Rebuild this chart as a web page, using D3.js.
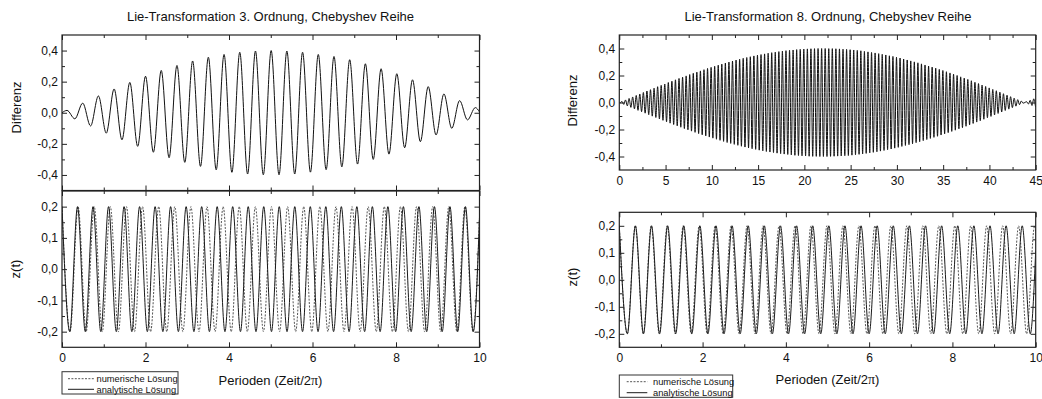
<!DOCTYPE html>
<html><head><meta charset="utf-8">
<script src="https://cdn.jsdelivr.net/npm/d3@7"></script>
<style>
body{margin:0;background:#fff;}
svg{display:block;font-family:"Liberation Sans",Arial,sans-serif;}
</style></head><body>
<svg id="c" width="1042" height="399"></svg>
<script>
// ---------------- texts ----------------
const chartTitles = ["Lie-Transformation 3. Ordnung, Chebyshev Reihe", "Lie-Transformation 8. Ordnung, Chebyshev Reihe"];
const yTitles = ["Differenz", "z(t)"];
const xTitleParts = ["Perioden (Zeit/2", "π", ")"];
const legendLabels = ["numerische Lösung", "analytische Lösung"];

// ---------------- ticks ----------------
const diffYMajor = [-0.4, -0.2, 0, 0.2, 0.4];
const diffYMinor = [-0.3, -0.1, 0.1, 0.3];
const zYMajor = [-0.2, -0.1, 0, 0.1, 0.2];
const zYMinor = [-0.15, -0.05, 0.05, 0.15];
const zXMajor = [0, 2, 4, 6, 8, 10];
const zXMinor = [1, 3, 5, 7, 9];
const diff8XMajor = [0, 5, 10, 15, 20, 25, 30, 35, 40, 45];
const diff8XMinor = [2.5, 7.5, 12.5, 17.5, 22.5, 27.5, 32.5, 37.5, 42.5];

// ---------------- data: left (3. Ordnung) ----------------
// extrema of the difference curve, evenly spaced between first and last extremum time
const diff3Extrema = [0.015,-0.039,0.062,-0.085,0.108,-0.131,0.153,-0.174,0.195,-0.216,
  0.235,-0.254,0.272,-0.289,0.304,-0.319,0.333,-0.345,0.357,-0.367,
  0.375,-0.383,0.389,-0.394,0.397,-0.399,0.400,-0.399,0.397,-0.394,
  0.389,-0.382,0.375,-0.366,0.362,-0.348,0.341,-0.330,0.315,-0.300,
  0.283,-0.266,0.251,-0.225,0.212,-0.186,0.168,-0.143,0.121,-0.100,
  0.078,-0.046,0.033];
const diff3Span = [0.12, 9.90];
const diff3Start = [0, 0];
const diff3End = [10, 0.005];

const z3AnaExtrema = [0.2,-0.2,0.2,-0.2,0.2,-0.2,0.2,-0.2,0.2,-0.2,0.2,-0.2,0.2,-0.2,0.2,-0.2,0.2,-0.2,
  0.2,-0.2,0.2,-0.2,0.2,-0.2,0.2,-0.2,0.2,-0.2,0.2,-0.2,0.2,-0.2,0.2,-0.2,0.2,-0.2,
  0.2,-0.2,0.2,-0.2,0.2,-0.2,0.2,-0.2,0.2,-0.2,0.2,-0.2,0.2,-0.2,0.2,-0.2,0.2,-0.2];
const z3AnaSpan = [0, 9.85];
const z3AnaEnd = [10, 0.165];
const z3NumExtrema = [0.2,-0.2,0.2,-0.2,0.2,-0.2,0.2,-0.2,0.2,-0.2,0.2,-0.2,0.2,-0.2,0.2,-0.2,0.2,-0.2,
  0.2,-0.2,0.2,-0.2,0.2,-0.2,0.2,-0.2,0.2,-0.2,0.2,-0.2,0.2,-0.2,0.2,-0.2,0.2,-0.2,
  0.2,-0.2,0.2,-0.2,0.2,-0.2,0.2,-0.2,0.2,-0.2,0.2,-0.2,0.2,-0.2,0.2,-0.2];
const z3NumSpan = [0, 9.843];
const z3NumEnd = [10, 0.166];

// ---------------- data: right (8. Ordnung) ----------------
const diff8Extrema = [
  -0.003,0.008,-0.014,0.019,-0.025,0.030,-0.036,0.041,-0.047,0.052,
  -0.058,0.063,-0.068,0.074,-0.079,0.085,-0.090,0.095,-0.101,0.106,
  -0.111,0.117,-0.122,0.127,-0.132,0.137,-0.143,0.148,-0.153,0.158,
  -0.163,0.168,-0.173,0.178,-0.183,0.188,-0.193,0.197,-0.202,0.207,
  -0.212,0.216,-0.221,0.225,-0.230,0.234,-0.239,0.243,-0.247,0.252,
  -0.256,0.260,-0.264,0.268,-0.272,0.276,-0.280,0.284,-0.288,0.292,
  -0.296,0.299,-0.303,0.307,-0.310,0.314,-0.317,0.320,-0.324,0.327,
  -0.330,0.333,-0.336,0.339,-0.342,0.345,-0.347,0.350,-0.353,0.355,
  -0.358,0.360,-0.363,0.365,-0.367,0.369,-0.371,0.373,-0.375,0.377,
  -0.379,0.381,-0.382,0.384,-0.385,0.387,-0.388,0.389,-0.391,0.392,
  -0.393,0.394,-0.395,0.396,-0.396,0.397,-0.398,0.398,-0.399,0.399,
  -0.399,0.400,-0.400,0.400,-0.400,0.400,-0.400,0.399,-0.399,0.399,
  -0.398,0.398,-0.397,0.397,-0.396,0.395,-0.394,0.394,-0.393,0.391,
  -0.390,0.389,-0.387,0.386,-0.384,0.383,-0.381,0.379,-0.377,0.375,
  -0.373,0.371,-0.369,0.367,-0.365,0.362,-0.360,0.357,-0.355,0.352,
  -0.349,0.346,-0.344,0.341,-0.338,0.335,-0.332,0.329,-0.325,0.322,
  -0.318,0.315,-0.312,0.308,-0.305,0.301,-0.297,0.294,-0.290,0.286,
  -0.282,0.278,-0.274,0.270,-0.266,0.262,-0.258,0.254,-0.250,0.245,
  -0.241,0.237,-0.232,0.228,-0.223,0.219,-0.214,0.210,-0.205,0.200,
  -0.195,0.190,-0.186,0.181,-0.176,0.171,-0.166,0.161,-0.155,0.150,
  -0.145,0.140,-0.135,0.129,-0.124,0.119,-0.113,0.108,-0.103,0.097,
  -0.092,0.087,-0.081,0.076,-0.070,0.065,-0.059,0.054,-0.049,0.043,
  -0.038,0.032,-0.027,0.021,-0.016,0.011,-0.005,0.000,0.006,-0.011,
  0.016,-0.022,0.027,-0.033];
const diff8Span = [0.0963, 44.983];
const diff8Start = [0, 0];

const z8AnaExtrema = [0.2,-0.2,0.2,-0.2,0.2,-0.2,0.2,-0.2,0.2,-0.2,0.2,-0.2,0.2,-0.2,0.2,-0.2,0.2,-0.2,
  0.2,-0.2,0.2,-0.2,0.2,-0.2,0.2,-0.2,0.2,-0.2,0.2,-0.2,0.2,-0.2,0.2,-0.2,0.2,-0.2,
  0.2,-0.2,0.2,-0.2,0.2,-0.2,0.2,-0.2,0.2,-0.2,0.2,-0.2,0.2,-0.2,0.2,-0.2];
const z8AnaSpan = [0, 9.87];
const z8AnaEnd = [10, 0.108];
const z8NumExtrema = [0.2,-0.2,0.2,-0.2,0.2,-0.2,0.2,-0.2,0.2,-0.2,0.2,-0.2,0.2,-0.2,0.2,-0.2,0.2,-0.2,
  0.2,-0.2,0.2,-0.2,0.2,-0.2,0.2,-0.2,0.2,-0.2,0.2,-0.2,0.2,-0.2,0.2,-0.2,0.2,-0.2,
  0.2,-0.2,0.2,-0.2,0.2,-0.2,0.2,-0.2,0.2,-0.2,0.2,-0.2,0.2,-0.2,0.2,-0.2,0.2];
const z8NumSpan = [0, 9.974];
const z8NumEnd = [10, 0.18];

// ---------------- drawing ----------------
const svg = d3.select("#c");
const FONT = "'Liberation Sans', Arial, sans-serif";
const loc = d3.formatLocale({decimal: ",", thousands: ".", grouping: [3], currency: ["", ""], minus: "-"});
const f1 = loc.format(".1f");
const f0 = loc.format("d");
let clipId = 0;

function points(values, span, start, end) {
  const idx = d3.scaleLinear().domain([0, values.length - 1]).range(span);
  const pts = values.map((v, i) => [idx(i), v]);
  if (start) pts.unshift(start);
  if (end) pts.push(end);
  return pts;
}

function axes(g, x, y, o) {
  const [xa, xb] = x.range();
  const [yb, ya] = y.range();
  const mk = (axis, vals, size, tx, ty, fmt, pad) => {
    axis.tickValues(vals).tickSizeInner(-size).tickSizeOuter(0).tickPadding(pad || 0)
      .tickFormat(fmt ? fmt : () => "");
    const s = g.append("g").attr("transform", `translate(${tx},${ty})`).call(axis);
    s.attr("font-size", 12).attr("font-family", FONT);
    s.select(".domain").remove();
    s.selectAll("line").attr("stroke", "#222").attr("stroke-width", 1);
    s.selectAll("text").attr("fill", "#111");
  };
  mk(d3.axisBottom(x), o.xMajor, 5, 0, yb, o.xLabels ? o.xFmt : null, 6);
  mk(d3.axisBottom(x), o.xMinor, 3, 0, yb, null, 0);
  mk(d3.axisTop(x), o.xMajor, 5, 0, ya, null, 0);
  mk(d3.axisTop(x), o.xMinor, 3, 0, ya, null, 0);
  mk(d3.axisLeft(y), o.yMajor, 5, xa, 0, o.yFmt, 4);
  mk(d3.axisLeft(y), o.yMinor, 3, xa, 0, null, 0);
  mk(d3.axisRight(y), o.yMajor, 5, xb, 0, null, 0);
  mk(d3.axisRight(y), o.yMinor, 3, xb, 0, null, 0);
  g.append("rect").attr("x", xa).attr("y", ya).attr("width", xb - xa).attr("height", yb - ya)
    .attr("fill", "none").attr("stroke", "#222").attr("stroke-width", 1.2);
}

function curve(g, x, y, pts, style) {
  const id = "clip" + (clipId++);
  const [xa, xb] = x.range();
  const [yb, ya] = y.range();
  g.append("clipPath").attr("id", id).append("rect")
    .attr("x", xa).attr("y", ya).attr("width", xb - xa).attr("height", yb - ya);
  const line = d3.line().x(d => x(d[0])).y(d => y(d[1])).curve(d3.curveMonotoneX);
  const p = g.append("path").attr("d", line(pts)).attr("fill", "none")
    .attr("clip-path", `url(#${id})`)
    .attr("stroke", style.color).attr("stroke-width", style.width);
  if (style.dash) p.attr("stroke-dasharray", style.dash);
}

const numStyle = {color: "#555", width: 1, dash: "2,1.4"};
const anaStyle = {color: "#1a1a1a", width: 1};
const diffStyle = {color: "#111", width: 1};

function yTitle(text, xBase, cy) {
  svg.append("text").attr("transform", `translate(${xBase},${cy}) rotate(-90)`)
    .attr("text-anchor", "middle").attr("font-family", FONT).attr("font-size", 13)
    .attr("fill", "#111").text(text);
}
function xTitle(cx, yBase) {
  const t = svg.append("text").attr("x", cx).attr("y", yBase).attr("text-anchor", "middle")
    .attr("font-family", FONT).attr("font-size", 13).attr("fill", "#111");
  t.append("tspan").text(xTitleParts[0]);
  t.append("tspan").attr("font-family", "'Liberation Serif', 'DejaVu Serif', serif").attr("font-size", 14).text(xTitleParts[1]);
  t.append("tspan").text(xTitleParts[2]);
}
function title(text, cx, yBase) {
  svg.append("text").attr("x", cx).attr("y", yBase).attr("text-anchor", "middle")
    .attr("font-family", FONT).attr("font-size", 13).attr("fill", "#111").text(text);
}
function legend(x0, y0, w, h, l0, l1, tx, ly0, ly1) {
  const g = svg.append("g");
  g.append("rect").attr("x", x0).attr("y", y0).attr("width", w).attr("height", h)
    .attr("fill", "#fff").attr("stroke", "#333").attr("stroke-width", 1);
  const styles = [numStyle, anaStyle];
  [ly0, ly1].forEach((ly, i) => {
    const ln = g.append("line").attr("x1", l0).attr("x2", l1).attr("y1", ly).attr("y2", ly)
      .attr("stroke", styles[i].color).attr("stroke-width", 1);
    if (styles[i].dash) ln.attr("stroke-dasharray", styles[i].dash);
    g.append("text").attr("x", tx).attr("y", ly + 3.3).attr("font-family", FONT)
      .attr("font-size", 9.3).attr("fill", "#111").text(legendLabels[i]);
  });
}

// ---- Left: 3. Ordnung ----
{
  const x = d3.scaleLinear().domain([0, 10]).range([62, 479.5]);
  const yD = d3.scaleLinear().domain([-0.5, 0.5]).range([190.5, 35]);
  const yZ = d3.scaleLinear().domain([-0.25, 0.25]).range([347.3, 191]);
  const g = svg.append("g");
  curve(g, x, yD, points(diff3Extrema, diff3Span, diff3Start, diff3End), diffStyle);
  axes(g, x, yD, {xMajor: zXMajor, xMinor: zXMinor, xLabels: false, yMajor: diffYMajor, yMinor: diffYMinor, yFmt: f1});
  curve(g, x, yZ, points(z3NumExtrema, z3NumSpan, null, z3NumEnd), numStyle);
  curve(g, x, yZ, points(z3AnaExtrema, z3AnaSpan, null, z3AnaEnd), anaStyle);
  axes(g, x, yZ, {xMajor: zXMajor, xMinor: zXMinor, xLabels: true, xFmt: f0, yMajor: zYMajor, yMinor: zYMinor, yFmt: f1});
  title(chartTitles[0], 270.5, 21);
  yTitle(yTitles[0], 20.5, 107.5);
  yTitle(yTitles[1], 20, 269);
  xTitle(270.5, 384.5);
  legend(62, 371.7, 116, 22.3, 68, 94, 96.5, 378.7, 389.3);
}

// ---- Right: 8. Ordnung ----
{
  const xD = d3.scaleLinear().domain([0, 45]).range([619.3, 1035.7]);
  const xZ = d3.scaleLinear().domain([0, 10]).range([619.3, 1035.7]);
  const yD = d3.scaleLinear().domain([-0.5, 0.5]).range([170, 35]);
  const yZ = d3.scaleLinear().domain([-0.25, 0.25]).range([347.3, 212.3]);
  const g = svg.append("g");
  curve(g, xD, yD, points(diff8Extrema, diff8Span, diff8Start, null), diffStyle);
  axes(g, xD, yD, {xMajor: diff8XMajor, xMinor: diff8XMinor, xLabels: true, xFmt: f0, yMajor: diffYMajor, yMinor: diffYMinor, yFmt: f1});
  curve(g, xZ, yZ, points(z8NumExtrema, z8NumSpan, null, z8NumEnd), numStyle);
  curve(g, xZ, yZ, points(z8AnaExtrema, z8AnaSpan, null, z8AnaEnd), anaStyle);
  axes(g, xZ, yZ, {xMajor: zXMajor, xMinor: zXMinor, xLabels: true, xFmt: f0, yMajor: zYMajor, yMinor: zYMinor, yFmt: f1});
  title(chartTitles[1], 828, 21);
  yTitle(yTitles[0], 577, 100.5);
  yTitle(yTitles[1], 577, 277);
  xTitle(827.5, 384);
  legend(619.3, 375, 113.4, 22.3, 626.7, 647.3, 653, 381.7, 392.7);
}
</script>
</body></html>
